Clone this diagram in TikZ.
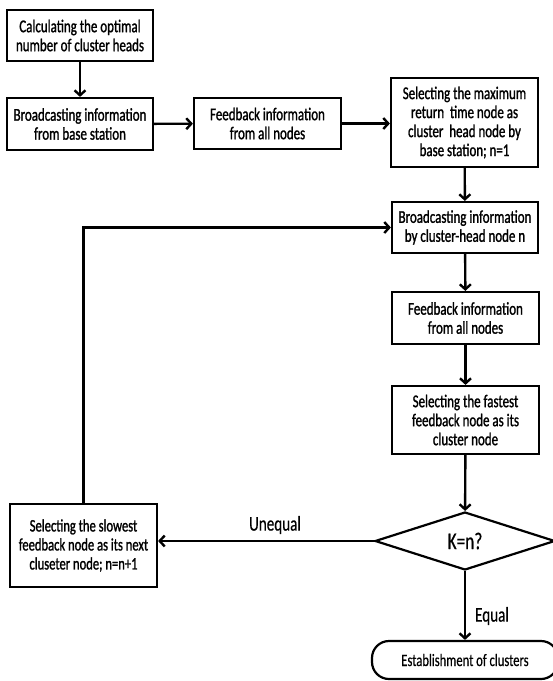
\documentclass[tikz,border=0pt]{standalone}
\usepackage{fontspec}
\setmainfont{Carlito}[FakeStretch=0.72,FakeBold=1.2]
\newfontfamily\lblfont{Carlito}[FakeStretch=0.72,FakeBold=0.4]
\usetikzlibrary{arrows.meta,shapes.geometric,calc}
\begin{document}
\begin{tikzpicture}[x=1pt,y=-1pt,
  box/.style={draw,line width=2.2pt,align=center,inner sep=0pt,font=\fontsize{18}{19}\selectfont},
  flow/.style={line width=2.4pt,-{Straight Barb[length=5pt,width=11pt]}},
  lbl/.style={font=\lblfont\fontsize{21}{22}\selectfont,inner sep=0pt}]
\useasboundingbox (0,0) rectangle (553,681);
\node[box,minimum width=146pt,minimum height=51pt] (b1) at (80,35.5) {Calculating the optimal\\number of cluster heads};
\node[box,minimum width=146pt,minimum height=52pt] (b2) at (80,124) {Broadcasting information\\from base station};
\node[box,minimum width=147pt,minimum height=51pt] (b3) at (267.5,123.5) {Feedback information\\from all nodes};
\node[box,minimum width=147pt,minimum height=89pt] (b4) at (464.5,122.5) {Selecting the maximum\\return \ time node as\\cluster \ head node by\\base station; n=1};
\node[box,minimum width=146pt,minimum height=51pt] (b5) at (465,227.5) {Broadcasting information\\by cluster-head node n};
\node[box,minimum width=147pt,minimum height=52pt] (b6) at (465.5,318) {Feedback information\\from all nodes};
\node[box,minimum width=147pt,minimum height=68pt] (b7) at (465.5,420) {Selecting the fastest\\feedback node as its\\cluster node};
\node[draw,line width=2.2pt,diamond,inner sep=0pt,minimum width=180pt,minimum height=58pt,font=\lblfont\fontsize{24}{26}\selectfont] (d) at (465,541) {K=n?};
\node[draw,line width=2.2pt,rounded corners=17pt,minimum width=186pt,minimum height=38pt,inner sep=0pt,font=\lblfont\fontsize{17.5}{19}\selectfont] (t) at (465,660) {Establishment of clusters};
\node[box,minimum width=147pt,minimum height=83pt,font=\fontsize{17.5}{19}\selectfont] (s) at (83.5,545.5) {Selecting the slowest\\feedback node as its next\\cluseter node; n=n+1};
\draw[flow] (b1) -- (b2);
\draw[flow] (b2) -- (b3);
\draw[flow] (b3.east) -- (b3.east -| b4.west);
\draw[flow] (b4) -- (b5);
\draw[flow] (b5) -- (b6);
\draw[flow] (b6) -- (b7);
\draw[flow] (b7) -- (d);
\draw[flow] (d) -- (t);
\draw[flow] (d.west) -- (d.west -| s.east);
\draw[flow] (s.north) -- (s.north |- b5.west) -- (b5.west);
\node[lbl] (lu) at (275,525) {Unequal};
\node[lbl] (le) at (492,616) {Equal};
\end{tikzpicture}
\end{document}
